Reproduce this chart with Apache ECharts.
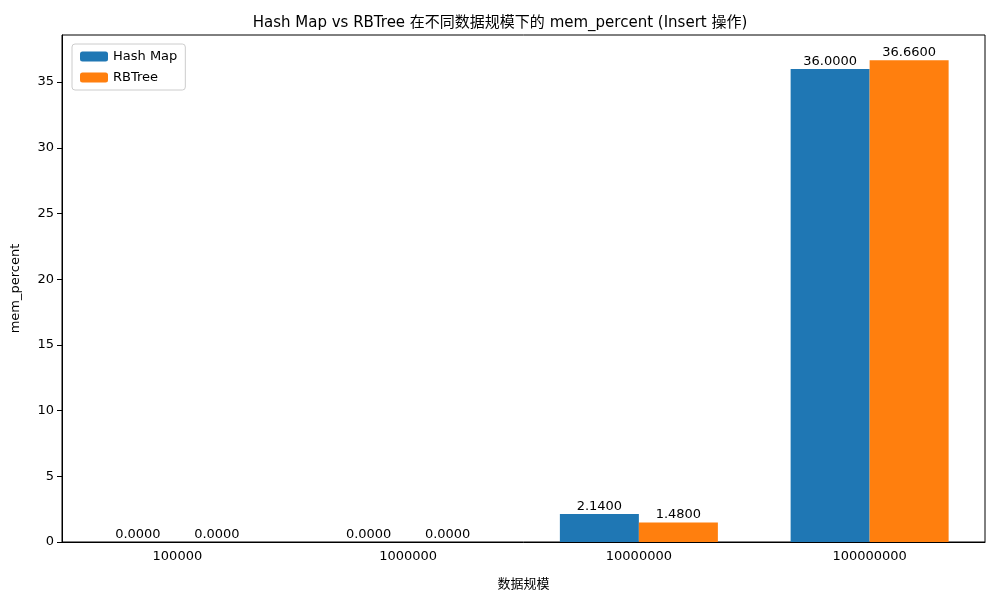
<!DOCTYPE html>
<html><head><meta charset="utf-8">
<script src="https://cdn.jsdelivr.net/npm/echarts@6/dist/echarts.min.js"></script>
<style>body{margin:0}#c{width:1000px;height:600px}</style></head>
<body><div id="c"></div>
<script>
const categories = ['100000', '1000000', '10000000', '100000000'];
const hashMap = [0, 0, 2.14, 36.0];
const rbTree = [0, 0, 1.48, 36.66];

const chart = echarts.init(document.getElementById('c'));
const font = 'DejaVu Sans, Noto Sans CJK SC';
const lbl = { show: true, position: 'top', distance: 1, color: '#000', fontSize: 13, fontFamily: font,
  formatter: p => p.value.toFixed(4) };
chart.setOption({
  animation: false,
  textStyle: { fontFamily: font },
  title: { text: 'Hash Map vs RBTree 在不同数据规模下的 mem_percent (Insert 操作)', left: 'center', top: 11,
    textStyle: { fontSize: 15, fontWeight: 'normal', color: '#000', fontFamily: font } },
  legend: { left: 72, top: 44, orient: 'vertical', itemWidth: 28, itemHeight: 10, itemGap: 8,
    textStyle: { fontSize: 13, color: '#000' }, borderColor: '#ccc', borderWidth: 1, borderRadius: 3, padding: [6, 8] },
  grid: { left: 62, right: 15, top: 35, bottom: 58 },
  xAxis: { type: 'category', data: categories, name: '数据规模', nameLocation: 'middle', nameGap: 36,
    nameTextStyle: { fontSize: 13, color: '#000' },
    axisLine: { lineStyle: { color: '#000' } }, axisTick: { alignWithLabel: true, lineStyle: { color: '#000' } },
    axisLabel: { color: '#000', fontSize: 13, margin: 8 } },
  yAxis: { type: 'value', min: 0, max: 38.58, interval: 5, name: 'mem_percent', nameLocation: 'middle', nameGap: 40,
    nameTextStyle: { fontSize: 13, color: '#000' },
    axisLine: { show: true, lineStyle: { color: '#000' } }, axisTick: { show: true, lineStyle: { color: '#000' } },
    splitLine: { show: false },
    axisLabel: { color: '#000', fontSize: 13, formatter: v => v % 5 === 0 ? v : '', showMaxLabel: false } },
  series: [
    { name: 'Hash Map', type: 'bar', data: hashMap, barWidth: 79, barGap: '0%', itemStyle: { color: '#1f77b4' }, label: lbl },
    { name: 'RBTree', type: 'bar', data: rbTree, barWidth: 79, itemStyle: { color: '#ff7f0e' }, label: lbl }
  ]
});
// frame on top and right like the reference
chart.setOption({ graphic: [{ type: 'rect', shape: { x: 62, y: 35, width: 923, height: 507 },
  style: { fill: 'none', stroke: '#000', lineWidth: 1 }, silent: true }] });
</script></body></html>
